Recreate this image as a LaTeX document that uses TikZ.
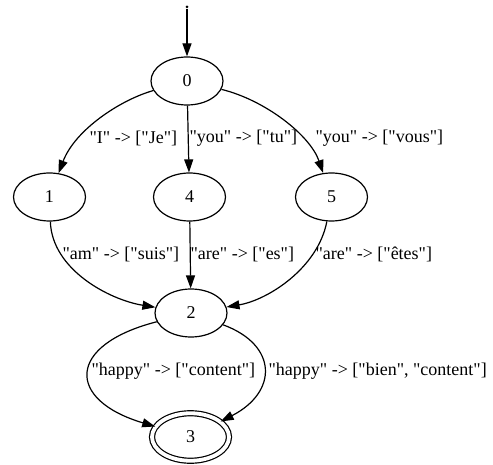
\documentclass[tikz,border=0pt]{standalone}
\usepackage{fontspec}
\setmainfont{Liberation Serif}[Ligatures=TeXOff]
\usetikzlibrary{shapes,arrows.meta}

\begin{document}
\begin{tikzpicture}[x=1pt,y=-1pt,line width=1.2pt,
                every path/.style={>={Triangle[length=13pt,width=9pt]}},
                every node/.style={font=\fontsize{18}{20}\selectfont},
                state/.style={draw,ellipse,minimum width=72pt,minimum height=48pt,inner sep=0pt},
                final/.style={state,double,double distance=3.8pt,minimum width=77pt,minimum height=47.5pt},
                lbl/.style={anchor=west,inner sep=0pt}]
  \useasboundingbox (0,0) rectangle (493,465);
  \node[fill,circle,inner sep=0pt,minimum size=3pt] (start) at (187,7) {};
  \node[state]     (n0) at (187,81)    { 0 };
  \node[state]     (n1) at (49.5,197)  { 1 };
  \node[state]     (n4) at (189.5,197) { 4 };
  \node[state]     (n5) at (331.5,197) { 5 };
  \node[state]     (n2) at (191,313)   { 2 };
  \node[final]     (n3) at (190.5,437) { 3 };
  % transition labels
  \node[lbl] (l01) at (89,138)  {"I" -> ["Je"]};
  \node[lbl] (l04) at (189,138) {"you" -> ["tu"]};
  \node[lbl] (l05) at (315,138) {"you" -> ["vous"]};
  \node[lbl] (l12) at (62,254)  {"am" -> ["suis"]};
  \node[lbl] (l42) at (190,254) {"are" -> ["es"]};
  \node[lbl] (l52) at (315,254) {"are" -> ["êtes"]};
  \node[lbl] (l23) at (91,371)  {"happy" -> ["content"]};
  \node[lbl] (l23b) at (268,371) {"happy" -> ["bien", "content"]};
  \draw[->] (start) -- (n0);
  \draw[->] (n0) .. controls (120,100) and (75,130) .. (n1);
  \draw[->] (n0) -- (n4);
  \draw[->] (n0) .. controls (265,100) and (310,135) .. (n5);
  \draw[->] (n1) .. controls (52,270) and (110,300) .. (n2);
  \draw[->] (n4) -- (n2);
  \draw[->] (n5) .. controls (318,268) and (268,300) .. (n2);
  \draw[->] (n2) .. controls (66,345) and (66,400) .. (n3);
  \draw[->] (n2) .. controls (278,345) and (278,392) .. (n3);
\end{tikzpicture}
\end{document}
